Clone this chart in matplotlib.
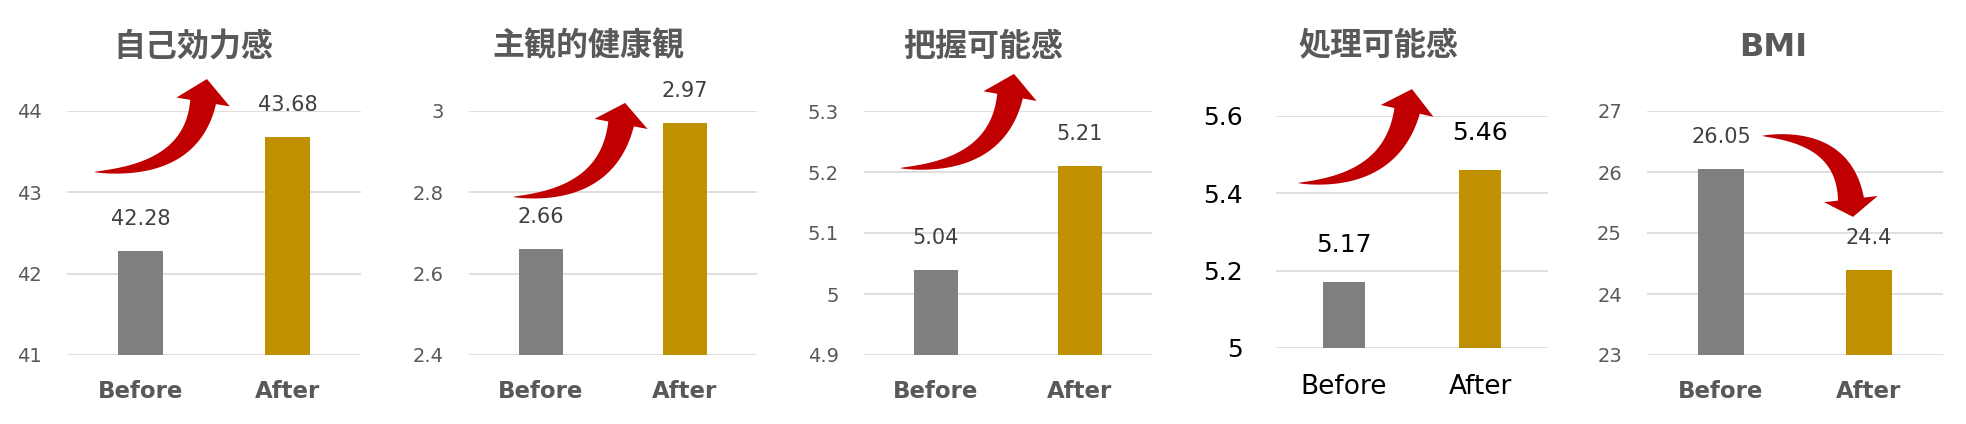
import numpy as np
import matplotlib
matplotlib.use('Agg')
import matplotlib.pyplot as plt
from matplotlib.patches import Polygon

plt.rcParams['font.family'] = ['DejaVu Sans', 'Noto Sans CJK JP']

# data
titles = ['自己効力感', '主観的健康観', '把握可能感', '処理可能感', 'BMI']
categories = ['Before', 'After']
before = [42.28, 2.66, 5.04, 5.17, 26.05]
after = [43.68, 2.97, 5.21, 5.46, 24.4]
y_min = [41, 2.4, 4.9, 5.0, 23]
y_max = [44, 3.0, 5.3, 5.6, 27]
y_step = [1, 0.2, 0.1, 0.2, 1]

gray = '#7F7F7F'
gold = '#BF9000'
red = '#C00000'


def curved_arrow(fig, ax, tail, base, tip, shaft_w=26, head_w=54):
    # tapered curved block arrow, points given in axes fraction
    to_in = ax.transAxes + fig.dpi_scale_trans.inverted()
    p0, p2, pt = to_in.transform([tail, base, tip])
    d = (pt - p2) / np.linalg.norm(pt - p2)
    s = (p2[1] - p0[1]) / d[1]
    p1 = p2 - s * d
    p1[1] = p0[1]
    t = np.linspace(0, 1, 80)[:, None]
    pts = (1 - t) ** 2 * p0 + 2 * (1 - t) * t * p1 + t ** 2 * p2
    der = 2 * (1 - t) * (p1 - p0) + 2 * t * (p2 - p1)
    der = der / np.linalg.norm(der, axis=1)[:, None]
    nrm = np.column_stack([-der[:, 1], der[:, 0]])
    hw = shaft_w / 2 / fig.dpi * t ** 0.75
    left = pts + nrm * hw
    right = pts - nrm * hw
    n_end = nrm[-1]
    hh = head_w / 2 / fig.dpi
    poly = np.vstack([left, [p2 + n_end * hh], [pt], [p2 - n_end * hh], right[::-1]])
    fig.add_artist(Polygon(poly, closed=True, facecolor=red, edgecolor='none',
                           transform=fig.dpi_scale_trans, zorder=5))


fig = plt.figure(figsize=(19.66, 4.24), dpi=100)

W, H = 1966, 424
boxes = [(67, 294, 111, 355), (469, 288, 111, 355), (864, 288, 111, 355),
         (1276, 272, 116, 348), (1647, 296, 111, 355)]
title_dx = [-15, -18, -18, -24, -16]
arrows = [((0.092, 0.75), (0.463, 1.037), (0.476, 1.131)),
          ((0.153, 0.648), (0.528, 0.947), (0.542, 1.033)),
          ((0.125, 0.766), (0.507, 1.061), (0.521, 1.152)),
          ((0.081, 0.711), (0.482, 1.022), (0.50, 1.116)),
          ((0.389, 0.898), (0.689, 0.639), (0.696, 0.566))]

for i in range(5):
    x0, w, top, bot = boxes[i]
    ax = fig.add_axes([x0 / W, (H - bot) / H, w / W, (bot - top) / H])
    plain = (i == 3)
    tick_col = '#000000' if plain else '#595959'
    lab_col = '#000000' if plain else '#404040'

    vals = [before[i], after[i]]
    ax.bar([0, 1], vals, width=0.31, color=[gray, gold], zorder=2)
    ax.set_xlim(-0.5, 1.5)
    ax.set_ylim(y_min[i], y_max[i])
    ticks = np.arange(y_min[i], y_max[i] + y_step[i] / 2, y_step[i])
    ax.set_yticks(ticks)
    ax.set_yticklabels([f'{round(v, 2):g}' for v in ticks])
    ax.set_xticks([0, 1])
    ax.set_xticklabels(categories)
    ax.grid(axis='y', color='#D9D9D9', linewidth=1.2, zorder=0)
    ax.set_axisbelow(True)
    for sp in ax.spines.values():
        sp.set_visible(False)
    ax.tick_params(length=0)
    if plain:
        ax.tick_params(axis='y', labelsize=18, pad=24, labelcolor=tick_col)
        ax.tick_params(axis='x', labelsize=19, pad=19, labelcolor=tick_col)
    else:
        ax.tick_params(axis='y', labelsize=14, pad=18, labelcolor=tick_col)
        ax.tick_params(axis='x', labelsize=16.5, pad=18, labelcolor='#595959')
        for lb in ax.get_xticklabels():
            lb.set_fontweight('bold')

    for x, v in zip([0, 1], vals):
        ax.annotate(f'{v:g}', xy=(x, v), xytext=(0, 26.5 if plain else 23),
                    textcoords='offset points', ha='center', va='center',
                    fontsize=18 if plain else 15, color=lab_col)

    ax.annotate(titles[i], xy=(0.5, 1), xycoords='axes fraction',
                xytext=(title_dx[i], 50 if plain else 46), textcoords='offset points',
                ha='center', va='center', fontsize=23, fontweight='bold',
                color='#595959')

    curved_arrow(fig, ax, *arrows[i])

fig.savefig('out.png', dpi=100, facecolor='white')
